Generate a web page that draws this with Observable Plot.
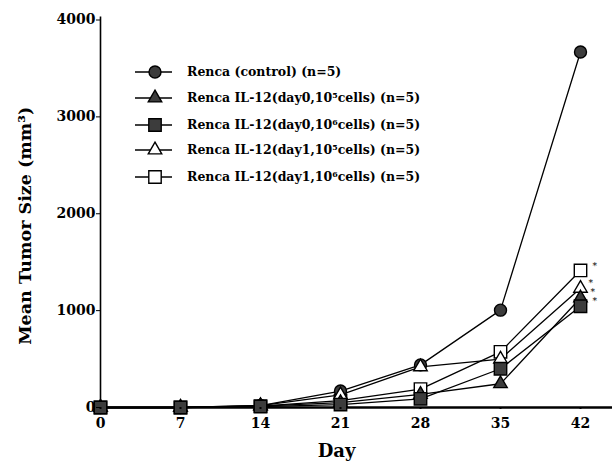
<!DOCTYPE html>
<html><head><meta charset="utf-8">
<script src="https://cdn.jsdelivr.net/npm/d3@7"></script>
<script src="https://cdn.jsdelivr.net/npm/@observablehq/plot@0.6"></script>
<style>
body{margin:0;background:#fff}
#chart{position:relative;width:612px;height:465px;background:#fff}
#chart svg{position:absolute;left:0;top:0}
</style>
</head><body><div id="chart"></div>
<script>
// ---- data ----
const days = [0, 7, 14, 21, 28, 35, 42];
const seriesLabels = [
  "Renca (control) (n=5)",
  "Renca IL-12(day0,10⁵cells) (n=5)",
  "Renca IL-12(day0,10⁶cells) (n=5)",
  "Renca IL-12(day1,10⁵cells) (n=5)",
  "Renca IL-12(day1,10⁶cells) (n=5)"
];
const control = [0, 0, 20, 170, 440, 1005, 3670];
const day0e5  = [0, 0, 15, 50, 135, 245, 1130];
const day0e6  = [0, 0, 10, 30, 90, 400, 1045];
const day1e5  = [0, 0, 20, 130, 420, 500, 1230];
const day1e6  = [0, 0, 15, 70, 190, 575, 1415];
const significant = [false, true, true, true, true];
const yTicks = [0, 1000, 2000, 3000, 4000];
const xTicks = [0, 7, 14, 21, 28, 35, 42];
const yTitle = "Mean Tumor Size (mm³)";
const xTitle = "Day";

// ---- styles ----
const FONT = "DejaVu Serif";
const styles = [
  {symbol: "circle",   fill: "#3c3c3c", r: 6,  starDx: 0,  starDy: 0},
  {symbol: "triangle", fill: "#3c3c3c", r: 5,  starDx: 10, starDy: -6},
  {symbol: "square",   fill: "#3c3c3c", r: 7,  starDx: 12, starDy: -5},
  {symbol: "triangle", fill: "#ffffff", r: 5,  starDx: 8,  starDy: -5},
  {symbol: "square",   fill: "#ffffff", r: 7,  starDx: 12, starDy: -4}
];
const values = [control, day0e5, day0e6, day1e5, day1e6];
const series = values.map((vals, i) => days.map((d, j) => ({day: d, size: vals[j], s: i})));
const drawOrder = [0, 4, 3, 1, 2];

const marks = [];
for (const i of drawOrder) {
  marks.push(Plot.line(series[i], {x: "day", y: "size", stroke: "black", strokeWidth: 1.3}));
}
marks.push(Plot.ruleX([0], {y1: 0, y2: 4030, stroke: "black", strokeWidth: 1.6}));
marks.push(Plot.ruleY([0], {stroke: "black", strokeWidth: 2.6}));
for (const i of drawOrder) {
  const st = styles[i];
  marks.push(Plot.dot(series[i], {x: "day", y: "size", symbol: () => st.symbol, fill: st.fill,
    stroke: "black", strokeWidth: 1.4, r: st.r}));
}
series.forEach((s, i) => {
  if (!significant[i]) return;
  marks.push(Plot.text([s[s.length - 1]], {x: "day", y: "size", text: () => "*",
    dx: styles[i].starDx, dy: styles[i].starDy, fontSize: 9, fontWeight: "normal", textAnchor: "start"}));
});
marks.push(Plot.axisY({ticks: yTicks, tickFormat: d => String(d), tickSize: 4, tickPadding: 1, label: null, fontSize: 14}));
marks.push(Plot.axisX({ticks: xTicks, tickFormat: d => String(d), tickSize: 2, tickPadding: 9, label: null, fontSize: 14, strokeWidth: 2}));
marks.push(Plot.text([yTitle], {frameAnchor: "left", textAnchor: "middle", dx: -75, dy: 12, rotate: -90, fontSize: 17.5, text: d => d}));
marks.push(Plot.text([xTitle], {frameAnchor: "bottom", textAnchor: "middle", dx: -20, dy: 49, fontSize: 18, text: d => d}));

const chart = Plot.plot({
  width: 612, height: 465,
  marginLeft: 100, marginRight: 0, marginTop: 19.5, marginBottom: 58,
  x: {domain: [0, 44.8]},
  y: {domain: [0, 4000]},
  symbol: {type: "identity"},
  style: {fontFamily: FONT, fontWeight: "bold", background: "white", color: "black"},
  marks
});
const host = document.getElementById("chart");
host.appendChild(chart);

// ---- legend (overlay drawn with d3) ----
const legendRowsY = [72, 98, 125, 150, 177];
const svg = d3.select(host).append("svg").attr("width", 612).attr("height", 465)
  .style("font-family", FONT).style("font-weight", "bold");
const symMap = {circle: d3.symbolCircle, triangle: d3.symbolTriangle, square: d3.symbolSquare};
seriesLabels.forEach((lab, i) => {
  const y = legendRowsY[i];
  const g = svg.append("g");
  g.append("line").attr("x1", 135).attr("x2", 172).attr("y1", y).attr("y2", y)
    .attr("stroke", "black").attr("stroke-width", 1.3);
  g.append("path").attr("transform", `translate(155,${y})`)
    .attr("d", d3.symbol(symMap[styles[i].symbol], Math.PI * styles[i].r ** 2)())
    .attr("fill", styles[i].fill).attr("stroke", "black").attr("stroke-width", 1.4);
  g.append("text").attr("x", 187).attr("y", y).attr("dy", "0.35em")
    .attr("font-size", 12.5).text(lab);
});
</script>
</body></html>
